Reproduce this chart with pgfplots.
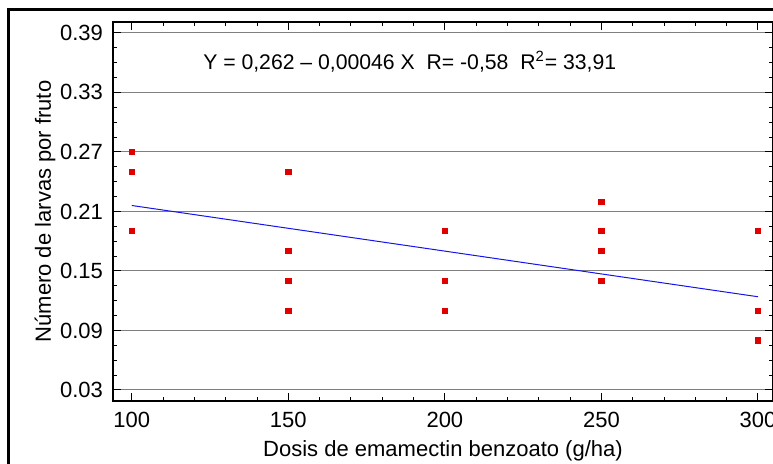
\documentclass[border=0pt]{standalone}
\usepackage{fontspec}
\setmainfont{Liberation Sans}
\usepackage{pgfplots}
\pgfplotsset{compat=1.18}

\definecolor{ptred}{RGB}{225,0,0}
\definecolor{fitblue}{RGB}{20,20,235}

\begin{document}
\begin{tikzpicture}
\begin{axis}[
  at={(0,0)}, anchor=south west,
  scale only axis,
  width=330pt, height=189.5pt,
  xmin=94, xmax=304.8,
  ymin=0.0189, ymax=0.401,
  xtick={100,150,200,250,300},
  minor x tick num=4,
  ytick={0.03,0.09,0.15,0.21,0.27,0.33,0.39},
  minor y tick num=3,
  yticklabel style={/pgf/number format/fixed, /pgf/number format/precision=2,
    /pgf/number format/fixed zerofill, xshift=-1.5pt},
  xticklabel style={yshift=-2pt},
  /pgf/number format/assume math mode=true,
  tick label style={font=\fontsize{11}{13}\selectfont},
  label style={font=\fontsize{11}{13}\selectfont},
  tick align=inside,
  major tick length=3.8pt, minor tick length=2pt,
  every tick/.style={black, line width=0.5pt},
  ymajorgrids,
  grid style={gray, line width=0.5pt},
  axis line style={line width=0.8pt},
  xlabel={Dosis de emamectin benzoato (g/ha)},
  ylabel={Número de larvas por fruto},
  xlabel style={at={(axis description cs:0.5,-0.132)}, anchor=center},
  ylabel style={at={(axis description cs:-0.103,0.5)}, anchor=center},
  clip=false,
]
\addplot[only marks, mark=square*, mark size=1.3pt, ptred] coordinates {
  (100,0.27) (100,0.25) (100,0.19)
  (150,0.25) (150,0.17) (150,0.14) (150,0.11)
  (200,0.19) (200,0.14) (200,0.11)
  (250,0.22) (250,0.19) (250,0.17) (250,0.14)
  (300,0.19) (300,0.11) (300,0.08)
};
\addplot[fitblue, line width=0.5pt] coordinates {(100,0.216) (300,0.124)};
\node[anchor=base west, inner sep=0pt, font=\fontsize{10.6}{12}\selectfont]
  at (axis cs:122.7,0.3527)
  {Y = 0,262 – 0,00046 X\ \ R= -0,58\ \ R\textsuperscript{2}= 33,91};
\end{axis}
\draw[line width=1.5pt, line cap=rect] (-52pt,-40pt) -- (-52pt,195.5pt) -- (345pt,195.5pt);
\pgfresetboundingbox
\path[use as bounding box] (-56.5pt,-31.5pt) rectangle (330pt,200.5pt);
\end{tikzpicture}
\end{document}
